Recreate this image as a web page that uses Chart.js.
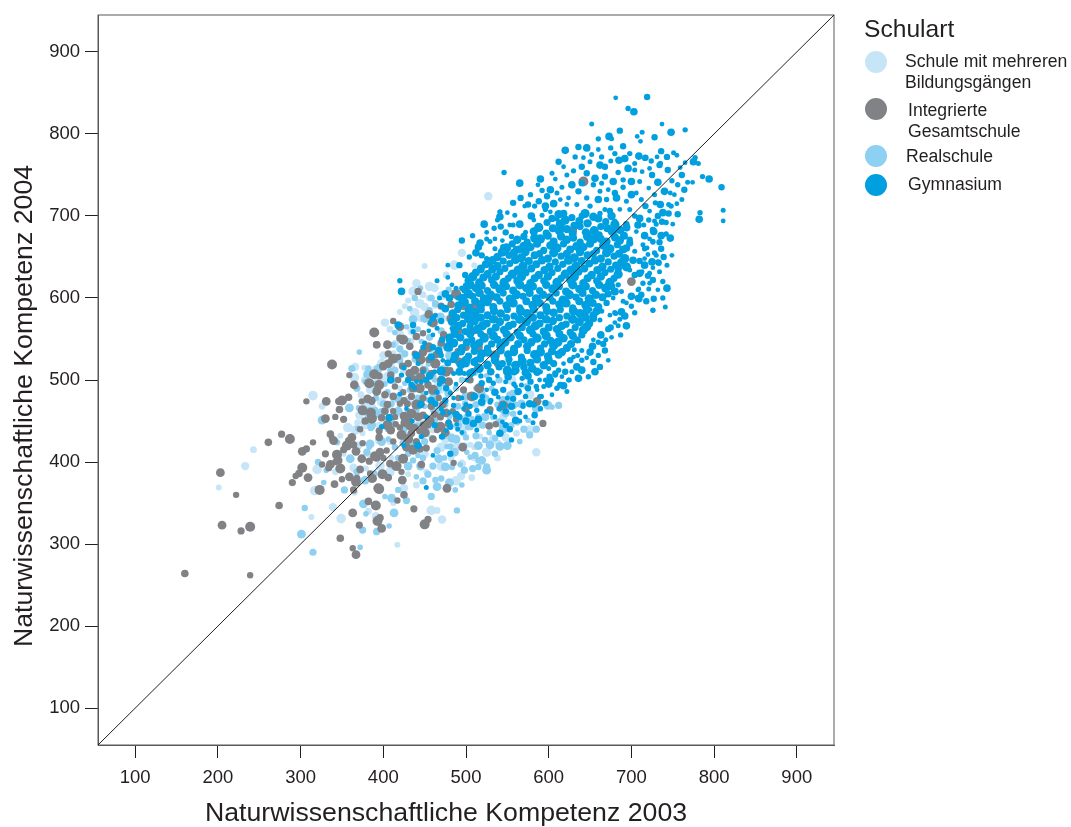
<!DOCTYPE html>
<html lang="de">
<head>
<meta charset="utf-8">
<title>Naturwissenschaftliche Kompetenz</title>
<script src="https://cdn.jsdelivr.net/npm/chart.js@4"></script>
<style>
    html, body { margin: 0; padding: 0; background: #fff; }
    #wrap { position: relative; width: 1071px; height: 827px; overflow: hidden; font-family: "Liberation Sans", Arial, sans-serif; color: #231f20; }
    #chart { position: absolute; left: 0; top: 0; }
    .legendTitle { position: absolute; left: 864px; top: 15px; font-size: 24.6px; line-height: 28px; }
    .swatch { position: absolute; left: 865px; width: 22px; height: 22px; border-radius: 50%; }
    .legendText { position: absolute; font-size: 17.6px; line-height: 21px; white-space: nowrap; }
</style>
</head>
<body>
<div id="wrap">
    <canvas id="chart" width="1071" height="827"></canvas>
    <div class="legendTitle">Schulart</div>
    <div class="swatch" style="top:51px;background:#c6e5f7"></div>
    <div class="legendText" style="left:905px;top:51px">Schule mit mehreren<br>Bildungsgängen</div>
    <div class="swatch" style="top:98px;background:#808285"></div>
    <div class="legendText" style="left:908px;top:100px">Integrierte<br>Gesamtschule</div>
    <div class="swatch" style="top:145px;background:#8dd0f1"></div>
    <div class="legendText" style="left:906px;top:146px">Realschule</div>
    <div class="swatch" style="top:174px;background:#009fdf"></div>
    <div class="legendText" style="left:908px;top:174px">Gymnasium</div>
</div>
<script>
const tickValues = [100, 200, 300, 400, 500, 600, 700, 800, 900];
const diagonal = [[55, 55], [945, 945]];
const xTitle = 'Naturwissenschaftliche Kompetenz 2003';
const yTitle = 'Naturwissenschaftliche Kompetenz 2004';

// values, [2003, 2004]
const mehrereBildungsgaenge = [
    [243,415],[233,395],[201,369],[315,481],[326,468],[366,516],[377,515],[365,503],[373,482],[384,488],
    [348,432],[357,442],[369,448],[378,445],[375,435],[366,439],[394,426],[371,457],[389,460],[320,391],
    [342,388],[364,393],[379,392],[317,365],[365,363],[339,345],[313,333],[349,331],[382,340],[391,334],
    [420,583],[444,593],[445,575],[402,570],[489,606],[471,603],[463,591],[450,589],[430,597],[456,614],
    [412,532],[424,532],[390,514],[402,500],[424,512],[469,488],[465,494],[398,473],[408,467],[386,467],
    [438,443],[396,427],[408,425],[481,431],[505,421],[533,428],[539,423],[585,412],[600,469],[577,482],
    [525,392],[475,427],[452,388],[488,377],[507,381],[494,383],[417,299],[458,341],[465,341],[471,330],
    [390,333],[430,431],[460,439],[497,443],[517,431],[577,439],[561,435],[527,724],[450,639],[486,640],
    [476,628],[440,618],[455,600],[435,560],[415,545],[400,530],[445,520],[430,475],[415,455],[440,465],
    [470,455],[490,420],[515,445],[545,455],[520,470],[555,500],[510,405],[450,410],[430,385],[380,470],
    [395,445],[405,505],[420,490],[460,530],[478,575],[495,655],[510,640],[436,608],[448,604],[462,612],
    [426,590],[438,582],[408,562],[420,556],[434,548],[398,520],[410,516],[378,500],[392,500],[414,478],
    [430,460],[445,448],[458,430],[470,418],[482,405],[495,398],[510,418],[525,412],[538,405],[548,430],
    [410,405],[396,395],[382,410],[370,420],[352,410],[408,388],[440,372],[425,368],[412,350],[470,395]
];

const realschule = [
    [432,587],[463,593],[479,610],[436,574],[414,558],[426,532],[412,543],[394,514],[408,512],[420,524],
    [456,585],[469,577],[446,547],[454,538],[416,500],[392,494],[426,496],[460,504],[467,490],[479,484],
    [448,484],[400,471],[410,471],[392,459],[460,463],[469,465],[499,471],[519,482],[551,473],[557,484],
    [515,455],[523,455],[543,463],[505,443],[497,435],[483,429],[477,419],[465,414],[523,427],[529,421],
    [501,412],[511,408],[515,402],[519,402],[505,406],[525,394],[515,394],[525,390],[493,397],[498,390],
    [483,394],[475,394],[440,382],[448,377],[463,378],[465,370],[487,366],[428,353],[418,366],[410,356],
    [402,358],[458,358],[489,341],[413,338],[407,322],[392,315],[436,402],[467,404],[440,445],[452,435],
    [481,419],[491,453],[507,453],[424,423],[414,418],[398,425],[412,394],[390,463],[432,488],[465,479],
    [531,490],[553,482],[573,492],[599,469],[604,467],[612,469],[557,459],[567,471],[575,451],[577,433],
    [535,429],[541,419],[371,534],[362,514],[382,514],[381,507],[378,498],[368,490],[391,478],[359,466],
    [370,466],[384,463],[381,457],[326,451],[369,441],[385,442],[344,424],[384,422],[383,418],[380,412],
    [321,400],[360,404],[331,390],[368,388],[389,386],[378,378],[328,375],[353,366],[305,344],[376,349],
    [379,337],[375,317],[392,316],[301,312],[372,296],[315,290],[438,600],[450,575],[428,565],[470,560],
    [455,520],[440,505],[472,515],[485,525],[405,485],[418,478],[440,462],[455,450],[475,470],[490,445],
    [500,455],[512,470],[530,445],[545,440],[470,440],[450,425],[430,410],[445,395],[405,440],[425,440],
    [495,500],[510,510],[525,505],[540,500],[560,470],[585,465],[480,455],[460,480],[500,430],[515,420],
    [445,612],[458,600],[470,590],[484,580],[442,562],[456,552],[468,540],[480,530],[430,548],[420,538],
    [438,525],[450,512],[462,500],[475,495],[488,490],[500,480],[512,490],[524,478],[538,470],[548,460],
    [562,448],[570,440],[555,445],[540,448],[528,436],[512,432],[498,420],[486,412],[474,405],[460,395],
    [448,405],[436,420],[422,432],[410,448],[398,462],[386,445],[402,495],[414,512],[426,475],[438,490],
    [450,468],[462,450],[474,432],[488,428],[502,442],[520,445],[533,455],[545,475],[558,468],[490,468],
    [478,445],[466,462],[454,476],[442,478],[430,462],[418,462],[406,428],[394,408],[418,405],[430,395],
    [442,408],[454,385],[470,380],[480,375],[495,372],[508,392],[535,410],[550,420],[565,425],[585,440]
];

const integrierteGesamtschule = [
    [160,264],[239,262],[205,323],[228,316],[239,321],[274,347],[222,360],[203,387],[277,434],[287,428],
    [261,424],[315,424],[302,413],[307,416],[338,519],[392,543],[359,506],[365,494],[389,507],[383,496],
    [393,488],[307,474],[331,474],[346,474],[350,475],[358,479],[374,474],[381,477],[386,474],[375,463],
    [347,464],[342,455],[330,453],[352,452],[386,453],[336,434],[338,429],[340,426],[358,426],[356,420],
    [364,421],[375,423],[367,413],[330,410],[344,409],[346,402],[342,400],[374,404],[383,401],[390,407],
    [392,405],[326,397],[336,397],[334,393],[302,393],[298,386],[294,383],[309,381],[290,375],[323,366],
    [341,373],[350,379],[359,382],[368,380],[367,376],[372,391],[384,386],[387,380],[364,366],[394,368],
    [382,352],[392,347],[363,338],[371,323],[393,328],[348,307],[363,295],[367,287],[442,608],[389,558],
    [392,543],[412,572],[420,565],[420,551],[424,549],[440,553],[448,557],[405,543],[406,532],[412,526],
    [432,541],[438,532],[448,534],[464,531],[460,570],[482,592],[495,597],[400,517],[423,517],[389,507],
    [409,506],[436,502],[432,508],[448,512],[463,520],[481,575],[481,512],[505,573],[523,553],[395,494],
    [402,482],[414,492],[392,486],[434,480],[444,490],[454,494],[467,478],[479,498],[497,488],[507,480],
    [386,475],[420,471],[445,471],[429,471],[434,459],[398,454],[408,455],[442,455],[469,455],[386,453],
    [448,457],[415,446],[430,451],[454,445],[469,443],[479,447],[491,478],[409,439],[395,438],[422,433],
    [434,435],[465,439],[475,436],[452,417],[436,415],[444,416],[404,414],[396,412],[390,406],[424,404],
    [446,397],[485,399],[496,418],[529,464],[545,469],[528,444],[536,446],[586,474],[593,447],[399,385],
    [406,381],[422,388],[423,378],[386,379],[395,367],[425,360],[417,353],[477,368],[437,343],[391,347],
    [396,332],[392,327],[398,319],[454,330],[450,324],[517,606],[497,589],[528,600],[510,560],[535,530],
    [470,545],[490,535],[515,515],[425,475],[440,470],[458,468],[412,462],[425,456],[448,445],[430,428],
    [405,470],[418,500],[438,512],[455,525],[476,510],[500,540],[492,560],[700,620],[630,682],[642,742],
    [402,462],[414,455],[426,448],[438,442],[450,436],[460,428],[420,442],[432,444],[444,438],[456,450],
    [412,480],[424,485],[436,490],[448,478],[460,488],[472,470],[484,462],[470,500],[458,508],[445,503],
    [430,520],[418,528],[406,520],[395,505],[445,525],[468,532],[480,545],[492,522],[505,500],[516,490],
    [500,465],[488,452],[476,460],[462,458],[405,445],[395,430],[412,425],[428,418],[440,425],[416,395],
    [408,398],[400,405],[455,580],[470,590],[488,605],[510,590],[535,575],[550,510],[530,510],[455,540],
    [473,555],[486,570],[515,540],[538,520],[385,460],[378,450],[372,440],[362,430],[352,415],[348,392]
];

// outer edge of the Gymnasium cloud, individual dots
const gymnasiumRand = [
    [681,844],[719,845],[696,831],[703,827],[652,812],[737,812],[686,804],[765,805],[748,802],[713,802],
    [707,797],[728,796],[660,794],[673,797],[676,794],[711,791],[690,785],[675,783],[646,783],[751,777],
    [755,774],[736,779],[698,776],[709,773],[716,770],[731,772],[743,772],[777,771],[775,766],[781,764],
    [765,765],[734,762],[724,767],[685,768],[675,767],[759,759],[761,750],[786,748],[794,745],[768,741],
    [774,741],[809,735],[749,743],[732,741],[761,720],[755,715],[756,702],[783,704],[782,696],[811,707],
    [811,694],[737,693],[742,678],[747,673],[726,668],[749,652],[739,650],[732,644],[725,644],[743,640],
    [726,637],[720,627],[738,620],[743,612],[721,611],[709,611],[727,599],[738,600],[709,599],[741,589],
    [726,585],[688,583],[680,582],[662,762],[650,766],[642,771],[668,748],[684,753],[696,758],[704,756],
    [713,754],[717,771],[690,744],[700,742],[710,742],[721,734],[725,750],[735,764],[678,742],[662,730],
    [654,738],[646,752],[670,720],[682,722],[694,718],[706,728],[717,712],[729,716],[735,714],[745,714],
    [747,728],[745,703],[721,695],[710,697],[698,708],[686,708],[674,706],[662,703],[727,681],[715,689],
    [706,681],[698,671],[688,681],[694,661],[704,657],[719,661],[710,645],[692,638],[684,636],[698,634],
    [713,632],[704,628],[684,616],[676,614],[688,608],[678,600],[670,594],[664,584],[654,575],[662,573],
    [650,586],[557,716],[541,705],[541,699],[559,701],[571,712],[575,714],[583,712],[579,700],[592,701],
    [602,705],[598,724],[592,731],[602,732],[610,728],[587,738],[640,740],[654,738],[628,738],[557,689],
    [553,689],[542,687],[534,685],[517,667],[529,669],[544,670],[519,652],[525,648],[618,703],[634,714],
    [614,720],[726,683],[726,669],[708,689],[714,665],[720,653],[733,643],[724,644],[710,630],[708,610],
    [694,594],[708,600],[726,585],[688,583],[681,581],[674,579],[675,564],[687,555],[663,555],[669,549],
    [654,549],[666,544],[636,548],[653,541],[631,537],[646,527],[654,522],[640,524],[656,510],[625,500],
    [610,490],[614,494],[591,480],[563,486],[596,500],[618,520],[626,524],[608,506],[634,516],[600,514],
    [569,470],[583,457],[420,621],[422,608],[465,621],[483,616],[499,628],[495,612],[475,587],[463,579],
    [456,569],[436,567],[436,559],[418,567],[465,563],[483,563],[471,549],[481,538],[467,536],[442,520],
    [448,510],[434,494],[422,506],[409,500],[420,483],[452,484],[463,471],[485,469],[471,500],[481,484],
    [497,465],[503,459],[513,463],[519,473],[529,473],[539,479],[557,477],[569,468],[577,471],[589,480],
    [563,486],[575,490],[583,458],[560,451],[565,450],[544,449],[553,440],[555,427],[541,435],[581,448],
    [489,446],[481,443],[479,449],[509,447],[513,439],[495,436],[471,431],[446,431],[442,420],[425,420],
    [460,408],[481,410],[398,443],[407,454],[452,369],[501,500],[519,496],[533,496],[551,504],[567,494],
    [589,500],[601,504],[610,490],[618,493],[624,500],[616,504],[608,508],[546,753],[565,740],[622,750],
    [608,745],[612,766],[632,772],[620,780],[652,775],[660,781],[640,760],[630,755],[596,712],[610,696],
    [622,714],[640,700],[650,712],[660,720],[668,708],[680,694],[694,690],[704,700],[716,676],[730,652],
    [716,648],[726,622],[714,618],[700,602],[690,596],[680,570],[672,562],[660,530],[640,512],[628,510],
    [530,640],[518,634],[505,618],[512,655],[535,660],[525,680],[548,680],[560,660],[475,605],[490,600],
    [460,555],[470,572],[448,540],[458,528],[462,510],[440,498],[452,500],[472,460],[488,458],[500,470],
    [525,488],[545,488],[558,495],[575,505],[590,510],[530,460],[548,462],[572,480],[600,495],[635,530],
    [535,672],[545,662],[555,675],[565,690],[572,680],[582,695],[588,718],[596,708],[606,715],[616,735],
    [624,722],[636,730],[646,722],[656,746],[664,740],[672,732],[680,728],[690,735],[700,726],[712,720],
    [722,706],[732,700],[742,692],[736,676],[730,690],[722,672],[736,660],[728,655],[716,640],[734,632],
    [722,618],[712,604],[700,590],[692,578],[684,566],[676,552],[668,536],[660,546],[650,534],[640,536],
    [630,528],[620,510],[612,512],[602,500],[594,492],[586,488],[578,498],[568,502],[558,510],[548,498],
    [538,505],[528,500],[518,505],[508,510],[498,508],[488,495],[476,490],[468,495],[456,505],[446,498],
    [438,490],[430,500],[425,515],[440,530],[450,545],[455,560],[460,575],[470,590],[480,600],[488,612],
    [478,625],[492,640],[504,650],[515,662],[525,672],[510,628],[500,615],[520,480],[535,485],[550,478],
    [560,492],[545,470],[530,475],[510,480],[495,478],[485,478],[475,475],[465,485],[458,475],[470,465],
    [480,460],[492,455],[505,468],[515,452],[525,462],[535,455],[548,445],[540,465],[555,468],[565,460],
    [572,455],[582,470],[590,465],[500,450],[490,440],[476,438],[462,445],[452,455],[445,470],[435,450],
    [428,465],[668,760],[680,776],[692,770],[704,764],[722,758],[744,756],[756,738],[740,730],[728,726],
    [752,726],[764,732],[748,712],[738,704],[728,694],[750,690],[734,668],[716,660],[702,646],[722,630],
    [732,610],[718,596],[704,582],[694,566],[686,574],[672,524],[662,516],[648,504],[636,502],[622,486],
    [604,482],[596,472],[585,492],[570,516],[552,520],[540,515],[526,520],[512,525],[500,520],[485,508],
    [472,524],[460,540],[470,530],[480,552],[468,600],[478,640],[495,670],[508,676],[522,690],[538,695],
    [550,704],[566,722],[578,726],[590,745],[604,752],[618,760],[636,784],[664,772]
];

// dense middle of the cloud, single dots cannot be told apart here
const gymnasiumKern = [
    [612,702],[628,698],[644,703],[660,697],[676,700],[598,692],[614,690],[631,688],[647,691],[663,687],[680,690],[694,686],
    [582,681],[597,679],[613,682],[629,678],[645,680],[661,677],[677,681],[691,676],
    [562,671],[574,668],[590,672],[606,669],[622,671],[638,668],[654,672],[670,669],[686,670],[698,667],
    [549,661],[564,659],[578,662],[594,658],[610,661],[626,659],[642,662],[658,658],[674,660],[690,659],
    [538,650],[552,652],[567,649],[583,652],[599,648],[615,651],[631,649],[647,652],[663,648],[679,651],[692,648],
    [524,641],[538,639],[553,642],[569,639],[585,641],[601,638],[617,641],[633,639],[649,642],[665,638],[681,640],[694,638],
    [512,631],[526,629],[541,632],[556,629],[572,631],[588,628],[604,631],[620,629],[636,632],[652,628],[668,631],[684,629],
    [503,621],[516,619],[531,622],[546,619],[562,621],[578,618],[594,621],[610,619],[626,622],[642,618],[658,621],[674,619],
    [499,610],[512,612],[526,609],[541,611],[557,609],[573,612],[589,609],[605,611],[621,608],[637,611],[653,609],[669,612],[680,608],
    [495,600],[508,602],[522,599],[537,601],[553,599],[569,602],[585,599],[601,601],[617,598],[633,601],[649,599],[665,601],
    [491,591],[504,589],[518,592],[533,589],[549,591],[565,588],[581,591],[597,589],[613,592],[629,588],[645,591],[660,589],
    [484,581],[497,579],[511,582],[526,579],[542,581],[558,578],[574,581],[590,579],[606,582],[622,578],[638,581],[654,579],
    [483,571],[496,569],[510,572],[525,569],[541,571],[557,568],[573,571],[589,569],[605,572],[621,568],[637,571],[649,569],
    [486,561],[499,559],[514,562],[530,559],[546,561],[562,558],[578,561],[594,559],[610,562],[626,558],[642,561],
    [480,550],[493,552],[507,549],[522,551],[538,549],[554,552],[570,549],[586,551],[602,548],[618,551],[634,549],
    [478,540],[495,539],[510,542],[526,539],[542,541],[558,538],[574,541],[590,539],[606,542],[622,539],
    [487,530],[503,529],[519,532],[535,529],[551,531],[567,528],[583,531],[599,529],[612,531],
    [478,521],[494,519],[510,522],[526,518],[544,520],[560,518],[578,521],[594,518],[606,520],
    [470,511],[492,510],[505,508],[530,510],[550,512],[572,509],[586,510],
    [604,697],[620,695],[637,694],[654,699],[669,693],
    [588,686],[605,685],[622,684],[638,687],[655,682],[671,685],[686,683],
    [570,675],[583,673],[599,676],[615,675],[630,673],[647,675],[663,672],[680,674],
    [556,666],[570,663],[586,666],[602,664],[618,666],[634,663],[650,666],[666,664],[683,665],
    [544,656],[558,655],[572,656],[589,654],[606,655],[622,654],[638,656],[654,654],[670,655],[685,654],
    [532,646],[545,645],[560,647],[576,645],[592,646],[608,644],[624,646],[640,645],[656,646],[672,644],[688,643],
    [518,636],[532,635],[547,636],[563,634],[579,636],[595,634],[611,636],[627,634],[643,636],[659,634],[675,635],
    [508,626],[521,625],[536,626],[551,624],[567,626],[583,624],[599,626],[615,624],[631,626],[647,624],[663,626],[679,624],
    [505,616],[519,615],[534,616],[549,614],[565,616],[581,614],[597,616],[613,614],[629,616],[645,614],[661,616],[672,615],
    [503,605],[516,606],[530,604],[545,606],[561,604],[577,606],[593,604],[609,606],[625,604],[641,606],[657,604],[672,605],
    [498,595],[511,596],[526,595],[541,596],[557,594],[573,596],[589,594],[605,596],[621,594],[637,596],[653,594],
    [490,586],[504,585],[518,586],[534,584],[550,586],[566,584],[582,586],[598,584],[614,586],[630,584],[646,585],[658,584],
    [489,576],[503,575],[518,576],[533,574],[549,576],[565,574],[581,576],[597,574],[613,576],[629,574],[645,576],
    [491,566],[505,565],[520,566],[536,564],[552,566],[568,564],[584,566],[600,564],[616,566],[632,564],[646,565],
    [486,556],[505,556],[518,556],[533,554],[549,556],[565,554],[581,556],[597,554],[613,556],[629,554],[640,555],
    [485,545],[501,546],[516,545],[531,544],[547,546],[563,544],[579,546],[595,544],[611,546],[627,544],
    [494,535],[510,535],[526,534],[542,536],[558,534],[574,536],[590,534],[604,535],[616,534],
    [485,525],[500,524],[517,526],[535,524],[552,525],[568,523],[586,525],[600,524],
    [540,516],[516,514],[560,512],[580,514]
];

function toPoints(list) {
    return list.map(function (p) { return { x: p[0], y: p[1] }; });
}

// dot sizes differ in the original, cycle through a few
function cycled(sizes) {
    return function (context) { return sizes[context.dataIndex % sizes.length]; };
}

const textColor = '#231f20';
const axisColor = '#58595b';
const fontFamily = '"Liberation Sans", Arial, sans-serif';

const chart = new Chart(document.getElementById('chart').getContext('2d'), {
    type: 'scatter',
    data: {
        datasets: [
            // first dataset ends up on top
            {
                type: 'line',
                data: toPoints(diagonal),
                borderColor: '#231f20',
                borderWidth: 1,
                pointRadius: 0,
                fill: false
            },
            {
                label: 'Gymnasium',
                data: toPoints(gymnasiumRand),
                backgroundColor: '#009fdf',
                pointBorderWidth: 0,
                pointRadius: cycled([2.4, 3.2, 2.7, 3.8, 2.5])
            },
            {
                label: 'Gymnasium',
                data: toPoints(gymnasiumKern),
                backgroundColor: '#009fdf',
                pointBorderWidth: 0,
                pointRadius: cycled([4.2, 3.6, 4.6, 4])
            },
            {
                label: 'Integrierte Gesamtschule',
                data: toPoints(integrierteGesamtschule),
                backgroundColor: '#808285',
                pointBorderWidth: 0,
                pointRadius: cycled([3.8, 3.2, 4.4, 3.6, 5])
            },
            {
                label: 'Realschule',
                data: toPoints(realschule),
                backgroundColor: '#8dd0f1',
                pointBorderWidth: 0,
                pointRadius: cycled([2.8, 3.6, 3.2, 4.4])
            },
            {
                label: 'Schule mit mehreren Bildungsgängen',
                data: toPoints(mehrereBildungsgaenge),
                backgroundColor: '#c6e5f7',
                pointBorderWidth: 0,
                pointRadius: cycled([3.4, 4.2, 3, 4.8])
            }
        ]
    },
    options: {
        responsive: false,
        animation: false,
        layout: { padding: { top: 15, right: 237, left: 0, bottom: 0 } },
        plugins: {
            legend: { display: false },
            tooltip: { enabled: false }
        },
        scales: {
            x: {
                type: 'linear',
                min: 55,
                max: 945,
                afterFit: function (scale) {
                    scale.height = 82;
                    scale.paddingLeft = 0;
                    scale.paddingRight = 0;
                },
                afterBuildTicks: function (scale) {
                    scale.ticks = tickValues.map(function (v) { return { value: v }; });
                },
                grid: { drawOnChartArea: false, color: axisColor, tickLength: 13, tickColor: '#231f20' },
                border: { display: true, color: axisColor, width: 1 },
                ticks: { color: textColor, padding: 9, maxRotation: 0, font: { family: fontFamily, size: 18.5 } }
            },
            y: {
                type: 'linear',
                min: 55,
                max: 945,
                afterFit: function (scale) {
                    scale.width = 98;
                    scale.paddingTop = 0;
                    scale.paddingBottom = 0;
                },
                afterBuildTicks: function (scale) {
                    scale.ticks = tickValues.map(function (v) { return { value: v }; });
                },
                grid: { drawOnChartArea: false, color: axisColor, tickLength: 13, tickColor: '#231f20' },
                border: { display: true, color: axisColor, width: 1 },
                ticks: { color: textColor, padding: 5, font: { family: fontFamily, size: 18.5 } }
            }
        }
    },
    plugins: [{
        // frame around the plot, axis titles sit off centre in the original
        id: 'frameAndTitles',
        beforeDatasetsDraw: function (c) {
            const a = c.chartArea, g = c.ctx;
            g.save();
            g.strokeStyle = axisColor;
            g.lineWidth = 1;
            g.strokeRect(a.left, a.top, a.right - a.left, a.bottom - a.top);
            g.restore();
        },
        afterDraw: function (c) {
            const g = c.ctx;
            g.save();
            g.fillStyle = textColor;
            g.font = '26.7px ' + fontFamily;
            g.textAlign = 'center';
            g.textBaseline = 'middle';
            g.fillText(xTitle, 446, 814);
            g.translate(25, 406);
            g.rotate(-Math.PI / 2);
            g.fillText(yTitle, 0, 0);
            g.restore();
        }
    }]
});
</script>
</body>
</html>
